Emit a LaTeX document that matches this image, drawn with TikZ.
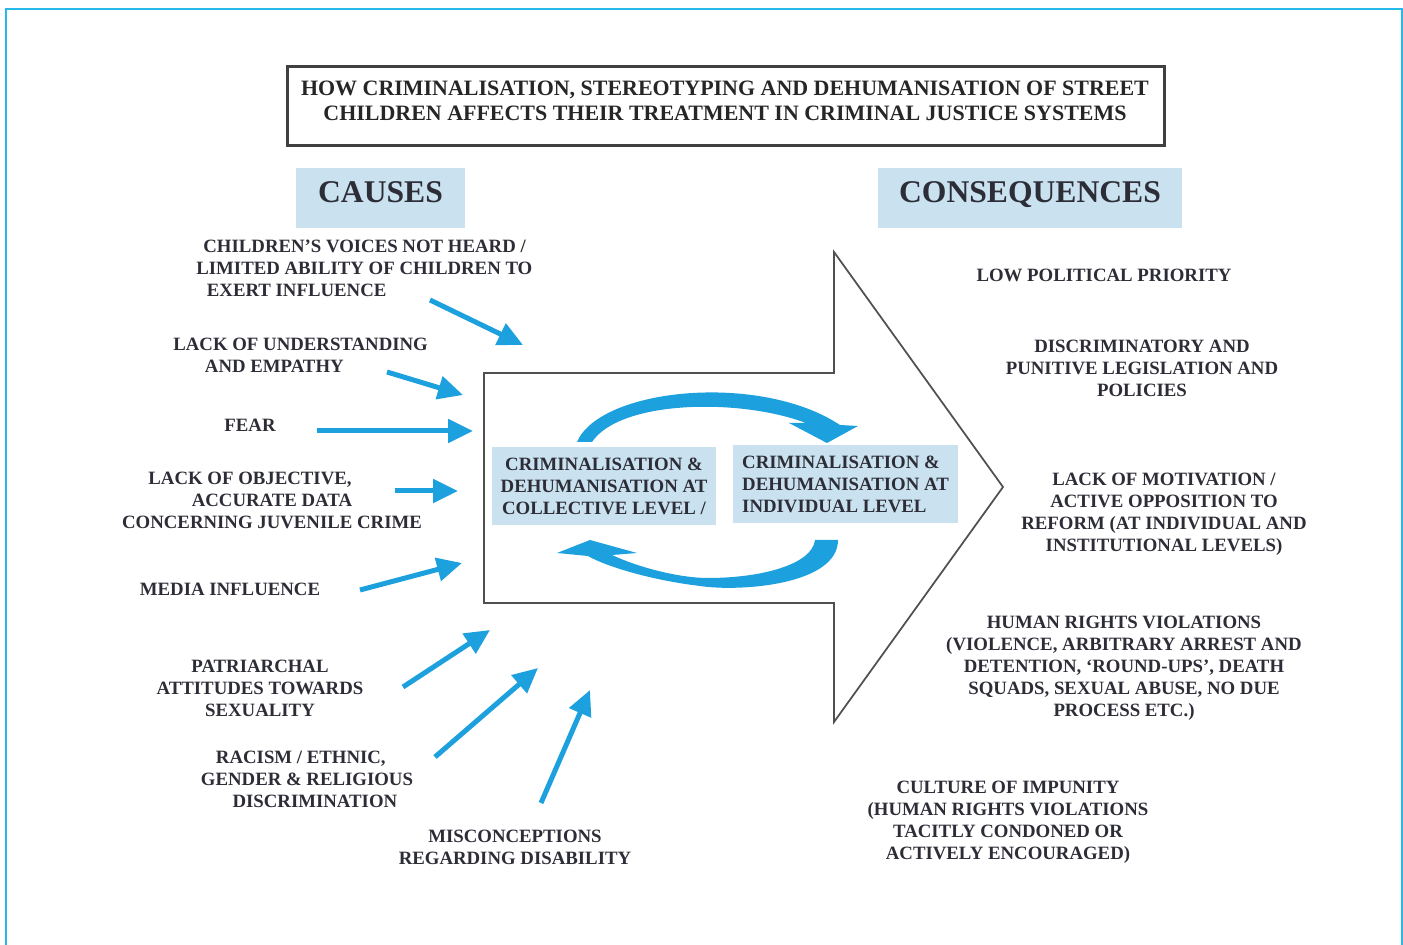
\documentclass[tikz,border=0pt]{standalone}
\usepackage{fontspec}
\setmainfont{Liberation Serif}
\usetikzlibrary{arrows.meta}
\definecolor{framecol}{RGB}{40,185,235}
\definecolor{ablue}{RGB}{28,160,222}
\definecolor{boxblue}{RGB}{202,226,240}
\definecolor{ink}{RGB}{45,45,55}
\definecolor{outline}{RGB}{80,80,80}
\begin{document}
\begin{tikzpicture}[x=0.02cm,y=-0.02cm,
  txt/.style={font=\bfseries\fontsize{10.7}{12.5}\selectfont,text=ink,align=center,inner sep=0pt},
  titletxt/.style={font=\bfseries\fontsize{12.5}{14.2}\selectfont,text=black!85,align=center,inner sep=0pt},
  titlebox/.style={draw=black!75,line width=0.6mm},
  hdr/.style={fill=boxblue,font=\bfseries\fontsize{18}{20}\selectfont,text=ink,inner sep=0pt,text depth=2.4mm,minimum height=12mm},
  inbox/.style={txt,fill=boxblue,minimum width=45mm,minimum height=15.6mm},
  cause/.style={draw=ablue,line width=1mm,-{Triangle[length=5mm,width=4.6mm]}},
  bigarrow/.style={draw=outline,line width=0.35mm,line join=miter},
  spin/.style={fill=ablue},
  framestyle/.style={draw=framecol,line width=0.45mm}
]
\useasboundingbox (0,0) rectangle (1403,945);
\draw[framestyle] (6,945) -- (6,9) -- (1402,9) -- (1402,945);

% title
\node[titletxt] (title) at (725,101) {HOW CRIMINALISATION, STEREOTYPING AND DEHUMANISATION OF STREET\\CHILDREN AFFECTS THEIR TREATMENT IN CRIMINAL JUSTICE SYSTEMS};
\draw[titlebox] (287,67) rectangle (1164,146);

% headers
\node[hdr,minimum width=33.8mm] (causes) at (380.5,198) {CAUSES};
\node[hdr,minimum width=60.8mm] (conseq) at (1030,198) {CONSEQUENCES};

% big arrow
\draw[bigarrow] (484,373) -- (834,373) -- (834,252) -- (1003,487) -- (834,722) -- (834,603) -- (484,603) -- cycle;

% inner boxes
\node[inbox] (coll) at (604,486) {CRIMINALISATION \&\\DEHUMANISATION AT\\COLLECTIVE LEVEL /};
\node[inbox,align=left] (indiv) at (845.5,484) {CRIMINALISATION \&\\DEHUMANISATION AT\\INDIVIDUAL LEVEL};

% circular arrows
\fill[spin] (577,442) .. controls (600,388) and (760,372) .. (840,425) -- (858,426) -- (827,443) -- (789,423) -- (806,423)
  .. controls (740,398) and (620,400) .. (592,442) -- cycle;
\fill[spin] (838,540) .. controls (838,585) and (740,592) .. (700,586) .. controls (650,580) and (605,566) .. (588,556)
  -- (557,553) -- (590,540) -- (637,553) -- (612,555)
  .. controls (640,568) and (680,578) .. (708,578) .. controls (760,578) and (812,565) .. (815,540) -- cycle;

% causes
\node[txt,align=left,anchor=west] (c1) at (196,268) {\hspace*{4pt}CHILDREN'S VOICES NOT HEARD /\\LIMITED ABILITY OF CHILDREN TO\\\hspace*{6pt}EXERT INFLUENCE};
\node[txt,align=left,anchor=west] (c2) at (173,355) {LACK OF UNDERSTANDING\\\hspace*{18pt}AND EMPATHY};
\node[txt] (c3) at (250,425) {FEAR};
\node[txt] (c4) at (272,500) {LACK OF OBJECTIVE,\hspace*{25pt}\\ACCURATE DATA\hspace*{25pt}\\CONCERNING JUVENILE CRIME};
\node[txt] (c5) at (230,589) {MEDIA INFLUENCE};
\node[txt] (c6) at (260,688) {PATRIARCHAL\\ATTITUDES TOWARDS\\SEXUALITY};
\node[txt] (c7) at (307,779) {RACISM / ETHNIC,\hspace*{7pt}\\GENDER \& RELIGIOUS\\\hspace*{9pt}DISCRIMINATION};
\node[txt] (c8) at (515,847) {MISCONCEPTIONS\\REGARDING DISABILITY};

% cause arrows
\coordinate (a1s) at (430,300); \coordinate (a1e) at (523,345);
\coordinate (a2s) at (387,372); \coordinate (a2e) at (463,395);
\coordinate (a3s) at (317,431); \coordinate (a3e) at (473,431);
\coordinate (a4s) at (395,491); \coordinate (a4e) at (458,491);
\coordinate (a5s) at (360,590); \coordinate (a5e) at (462,563);
\coordinate (a6s) at (403,687); \coordinate (a6e) at (490,630);
\coordinate (a7s) at (435,757); \coordinate (a7e) at (538,668);
\coordinate (a8s) at (541,803); \coordinate (a8e) at (590,690);
\foreach \i in {1,...,8} {\draw[cause] (a\i s) -- (a\i e);}

% consequences
\node[txt] (k1) at (1104,275) {LOW POLITICAL PRIORITY};
\node[txt] (k2) at (1142,368) {DISCRIMINATORY AND\\PUNITIVE LEGISLATION AND\\POLICIES};
\node[txt] (k3) at (1164,514) {LACK OF MOTIVATION /\\ACTIVE OPPOSITION TO\\REFORM (AT INDIVIDUAL AND\\INSTITUTIONAL LEVELS)};
\node[txt] (k4) at (1124,668) {HUMAN RIGHTS VIOLATIONS\\(VIOLENCE, ARBITRARY ARREST AND\\DETENTION, ‘ROUND-UPS’, DEATH\\SQUADS, SEXUAL ABUSE, NO DUE\\PROCESS ETC.)};
\node[txt] (k5) at (1008,822) {CULTURE OF IMPUNITY\\(HUMAN RIGHTS VIOLATIONS\\TACITLY CONDONED OR\\ACTIVELY ENCOURAGED)};
\end{tikzpicture}
\end{document}
